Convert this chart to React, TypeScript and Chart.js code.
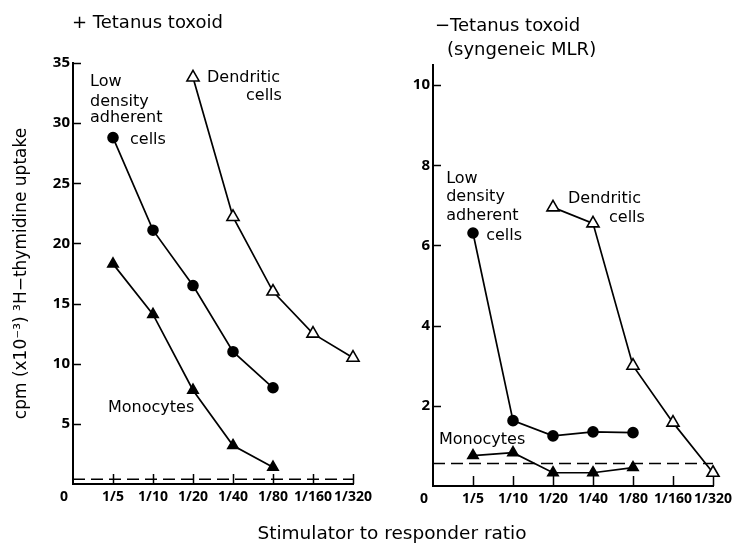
import React, { useEffect, useRef } from "react";
import { Chart, registerables } from "chart.js";
Chart.register(...registerables);

// ---- data ----
const ratioLabels = ["0", "1/5", "1/10", "1/20", "1/40", "1/80", "1/160", "1/320"];

// positions index into ratioLabels
const leftDendriticX = [3, 4, 5, 6, 7];
const leftDendriticY = [33.8, 22.2, 16.0, 12.5, 10.5];
const leftLowDensityX = [1, 2, 3, 4, 5];
const leftLowDensityY = [28.8, 21.1, 16.5, 11.0, 8.0];
const leftMonocyteX = [1, 2, 3, 4, 5];
const leftMonocyteY = [18.3, 14.1, 7.8, 3.2, 1.4];
const leftBackground = 0.4;
const leftYTicks = [5, 10, 15, 20, 25, 30, 35];
const leftYMax = 35;

const rightDendriticX = [3, 4, 5, 6, 7];
const rightDendriticY = [6.95, 6.55, 3.0, 1.58, 0.33];
const rightLowDensityX = [1, 2, 3, 4, 5];
const rightLowDensityY = [6.31, 1.63, 1.25, 1.35, 1.33];
const rightMonocyteX = [1, 2, 3, 4, 5];
const rightMonocyteY = [0.76, 0.83, 0.33, 0.33, 0.46];
const rightBackground = 0.56;
const rightYTicks = [2, 4, 6, 8, 10];
const rightYMax = 10.5;

const leftTitle = ["+ Tetanus toxoid"];
const rightTitle = ["\u2212Tetanus toxoid", "(syngeneic MLR)"];
const yAxisTitle = "cpm (x10\u207B\u00B3) \u00B3H\u2212thymidine uptake";
const xAxisTitle = "Stimulator to responder ratio";

// annotation text anchored in data coordinates
const leftNotes = [
  { text: "Low", x: 0.425, y: 33.42 },
  { text: "density", x: 0.425, y: 31.8 },
  { text: "adherent", x: 0.425, y: 30.4 },
  { text: "cells", x: 1.425, y: 28.6 },
  { text: "Dendritic", x: 3.35, y: 33.75 },
  { text: "cells", x: 4.325, y: 32.25 },
  { text: "Monocytes", x: 0.875, y: 6.32 },
];
const rightNotes = [
  { text: "Low", x: 0.33, y: 7.67 },
  { text: "density", x: 0.33, y: 7.2 },
  { text: "adherent", x: 0.33, y: 6.73 },
  { text: "cells", x: 1.33, y: 6.25 },
  { text: "Dendritic", x: 3.375, y: 7.17 },
  { text: "cells", x: 4.4, y: 6.7 },
  { text: "Monocytes", x: 0.15, y: 1.16 },
];

const FONT = "'DejaVu Sans', sans-serif";
const TICK_FONT = "'Open Sans', sans-serif";

const zip = (xs: number[], ys: number[]) => xs.map((x, i) => ({ x, y: ys[i] }));

function buildConfig(opts: {
  dendX: number[]; dendY: number[];
  lowX: number[]; lowY: number[];
  monoX: number[]; monoY: number[];
  bg: number; yTicks: number[]; yMax: number;
  notes: { text: string; x: number; y: number }[];
  titles: { text: string; px: number; py: number }[];
  yWidth: number; xHeight: number; padTop: number; padRight: number;
  showYTitle: boolean;
}) {
  const lineDs = (data: any[], style: string, radius: number, fill: string) => ({
    data,
    borderColor: "#000",
    borderWidth: 1.7,
    pointStyle: style,
    pointRadius: radius,
    pointBackgroundColor: fill,
    pointBorderColor: "#000",
    pointBorderWidth: 1.6,
    fill: false,
    tension: 0,
    clip: false,
  });
  const annot = {
    id: "annot",
    afterDraw(chart: any) {
      const ctx = chart.ctx;
      const xs = chart.scales.x;
      const ys = chart.scales.y;
      const ca = chart.chartArea;
      ctx.save();
      // inward tick marks
      ctx.strokeStyle = "#000";
      ctx.lineWidth = 1.5;
      ctx.beginPath();
      opts.yTicks.forEach((v) => {
        const py = Math.round(ys.getPixelForValue(v)) + 0.5;
        ctx.moveTo(ca.left, py);
        ctx.lineTo(ca.left + 8, py);
      });
      for (let i = 1; i < ratioLabels.length; i++) {
        const px = Math.round(xs.getPixelForValue(i)) + 0.5;
        ctx.moveTo(px, ca.bottom);
        ctx.lineTo(px, ca.bottom - 10);
      }
      ctx.stroke();
      // annotations
      ctx.fillStyle = "#000";
      ctx.font = `16px ${FONT}`;
      ctx.textAlign = "left";
      ctx.textBaseline = "middle";
      opts.notes.forEach((n) => {
        ctx.fillText(n.text, xs.getPixelForValue(n.x), ys.getPixelForValue(n.y));
      });
      ctx.font = `18px ${FONT}`;
      opts.titles.forEach((t) => ctx.fillText(t.text, t.px, t.py));
      ctx.restore();
    },
  };
  return {
    type: "line" as const,
    data: {
      datasets: [
        lineDs(zip(opts.dendX, opts.dendY), "triangle", 7, "#fff"),
        lineDs(zip(opts.lowX, opts.lowY), "circle", 5, "#000"),
        lineDs(zip(opts.monoX, opts.monoY), "triangle", 6, "#000"),
        {
          data: [{ x: 0, y: opts.bg }, { x: ratioLabels.length - 1, y: opts.bg }],
          borderColor: "#000",
          borderWidth: 1.6,
          borderDash: [12, 6],
          pointRadius: 0,
          fill: false,
        },
      ],
    },
    options: {
      animation: false,
      responsive: false,
      maintainAspectRatio: false,
      layout: { padding: { top: opts.padTop, right: opts.padRight, left: 0, bottom: 0 } },
      plugins: { legend: { display: false }, tooltip: { enabled: false } },
      scales: {
        x: {
          type: "linear",
          min: 0,
          max: ratioLabels.length - 1,
          afterBuildTicks: (s: any) => {
            s.ticks = ratioLabels.map((_, i) => ({ value: i }));
          },
          afterFit: (s: any) => { s.height = opts.xHeight; },
          ticks: {
            autoSkip: false,
            maxRotation: 0,
            padding: 5,
            color: "#000",
            font: { family: TICK_FONT, size: 14, weight: "bold" },
            callback: (v: number) => (v === 0 ? "0     " : ratioLabels[v]),
          },
          grid: { display: true, drawOnChartArea: false, drawTicks: false },
          border: { display: true, color: "#000", width: 2 },
        },
        y: {
          type: "linear",
          min: 0,
          max: opts.yMax,
          afterBuildTicks: (s: any) => {
            s.ticks = opts.yTicks.map((v) => ({ value: v }));
          },
          afterFit: (s: any) => { s.width = opts.yWidth; },
          ticks: {
            padding: 3,
            color: "#000",
            font: { family: TICK_FONT, size: 15, weight: "bold" },
          },
          title: {
            display: opts.showYTitle,
            text: yAxisTitle,
            color: "#000",
            font: { family: FONT, size: 17 },
            padding: { top: 11, bottom: 0 },
          },
          grid: { display: true, drawOnChartArea: false, drawTicks: false },
          border: { display: true, color: "#000", width: 2 },
        },
      },
    },
    plugins: [annot],
  };
}

function Panel(props: { cfg: any; left: number; width: number; height: number }) {
  const ref = useRef<HTMLCanvasElement>(null);
  useEffect(() => {
    if (!ref.current) return;
    const chart = new Chart(ref.current, props.cfg);
    return () => chart.destroy();
  }, []);
  return (
    <canvas
      ref={ref}
      width={props.width}
      height={props.height}
      style={{ position: "absolute", left: props.left, top: 0, width: props.width, height: props.height }}
    />
  );
}

export default function App() {
  const leftCfg = buildConfig({
    dendX: leftDendriticX, dendY: leftDendriticY,
    lowX: leftLowDensityX, lowY: leftLowDensityY,
    monoX: leftMonocyteX, monoY: leftMonocyteY,
    bg: leftBackground, yTicks: leftYTicks, yMax: leftYMax,
    notes: leftNotes,
    titles: [{ text: leftTitle[0], px: 72, py: 23 }],
    yWidth: 73, xHeight: 64, padTop: 63, padRight: 27,
    showYTitle: true,
  });
  const rightCfg = buildConfig({
    dendX: rightDendriticX, dendY: rightDendriticY,
    lowX: rightLowDensityX, lowY: rightLowDensityY,
    monoX: rightMonocyteX, monoY: rightMonocyteY,
    bg: rightBackground, yTicks: rightYTicks, yMax: rightYMax,
    notes: rightNotes,
    titles: [
      { text: rightTitle[0], px: 55, py: 26 },
      { text: rightTitle[1], px: 67, py: 50 },
    ],
    yWidth: 53, xHeight: 62, padTop: 65, padRight: 30,
    showYTitle: false,
  });
  return (
    <div style={{ position: "absolute", left: 0, top: 0, width: 743, height: 548, background: "#fff", overflow: "hidden" }}>
      <Panel cfg={leftCfg} left={0} width={380} height={548} />
      <Panel cfg={rightCfg} left={380} width={363} height={548} />
      <div
        style={{
          position: "absolute",
          left: 392,
          top: 523,
          transform: "translateX(-50%)",
          whiteSpace: "nowrap",
          font: `18.5px ${FONT}`,
          lineHeight: "20px",
          color: "#000",
        }}
      >
        {xAxisTitle}
      </div>
    </div>
  );
}
